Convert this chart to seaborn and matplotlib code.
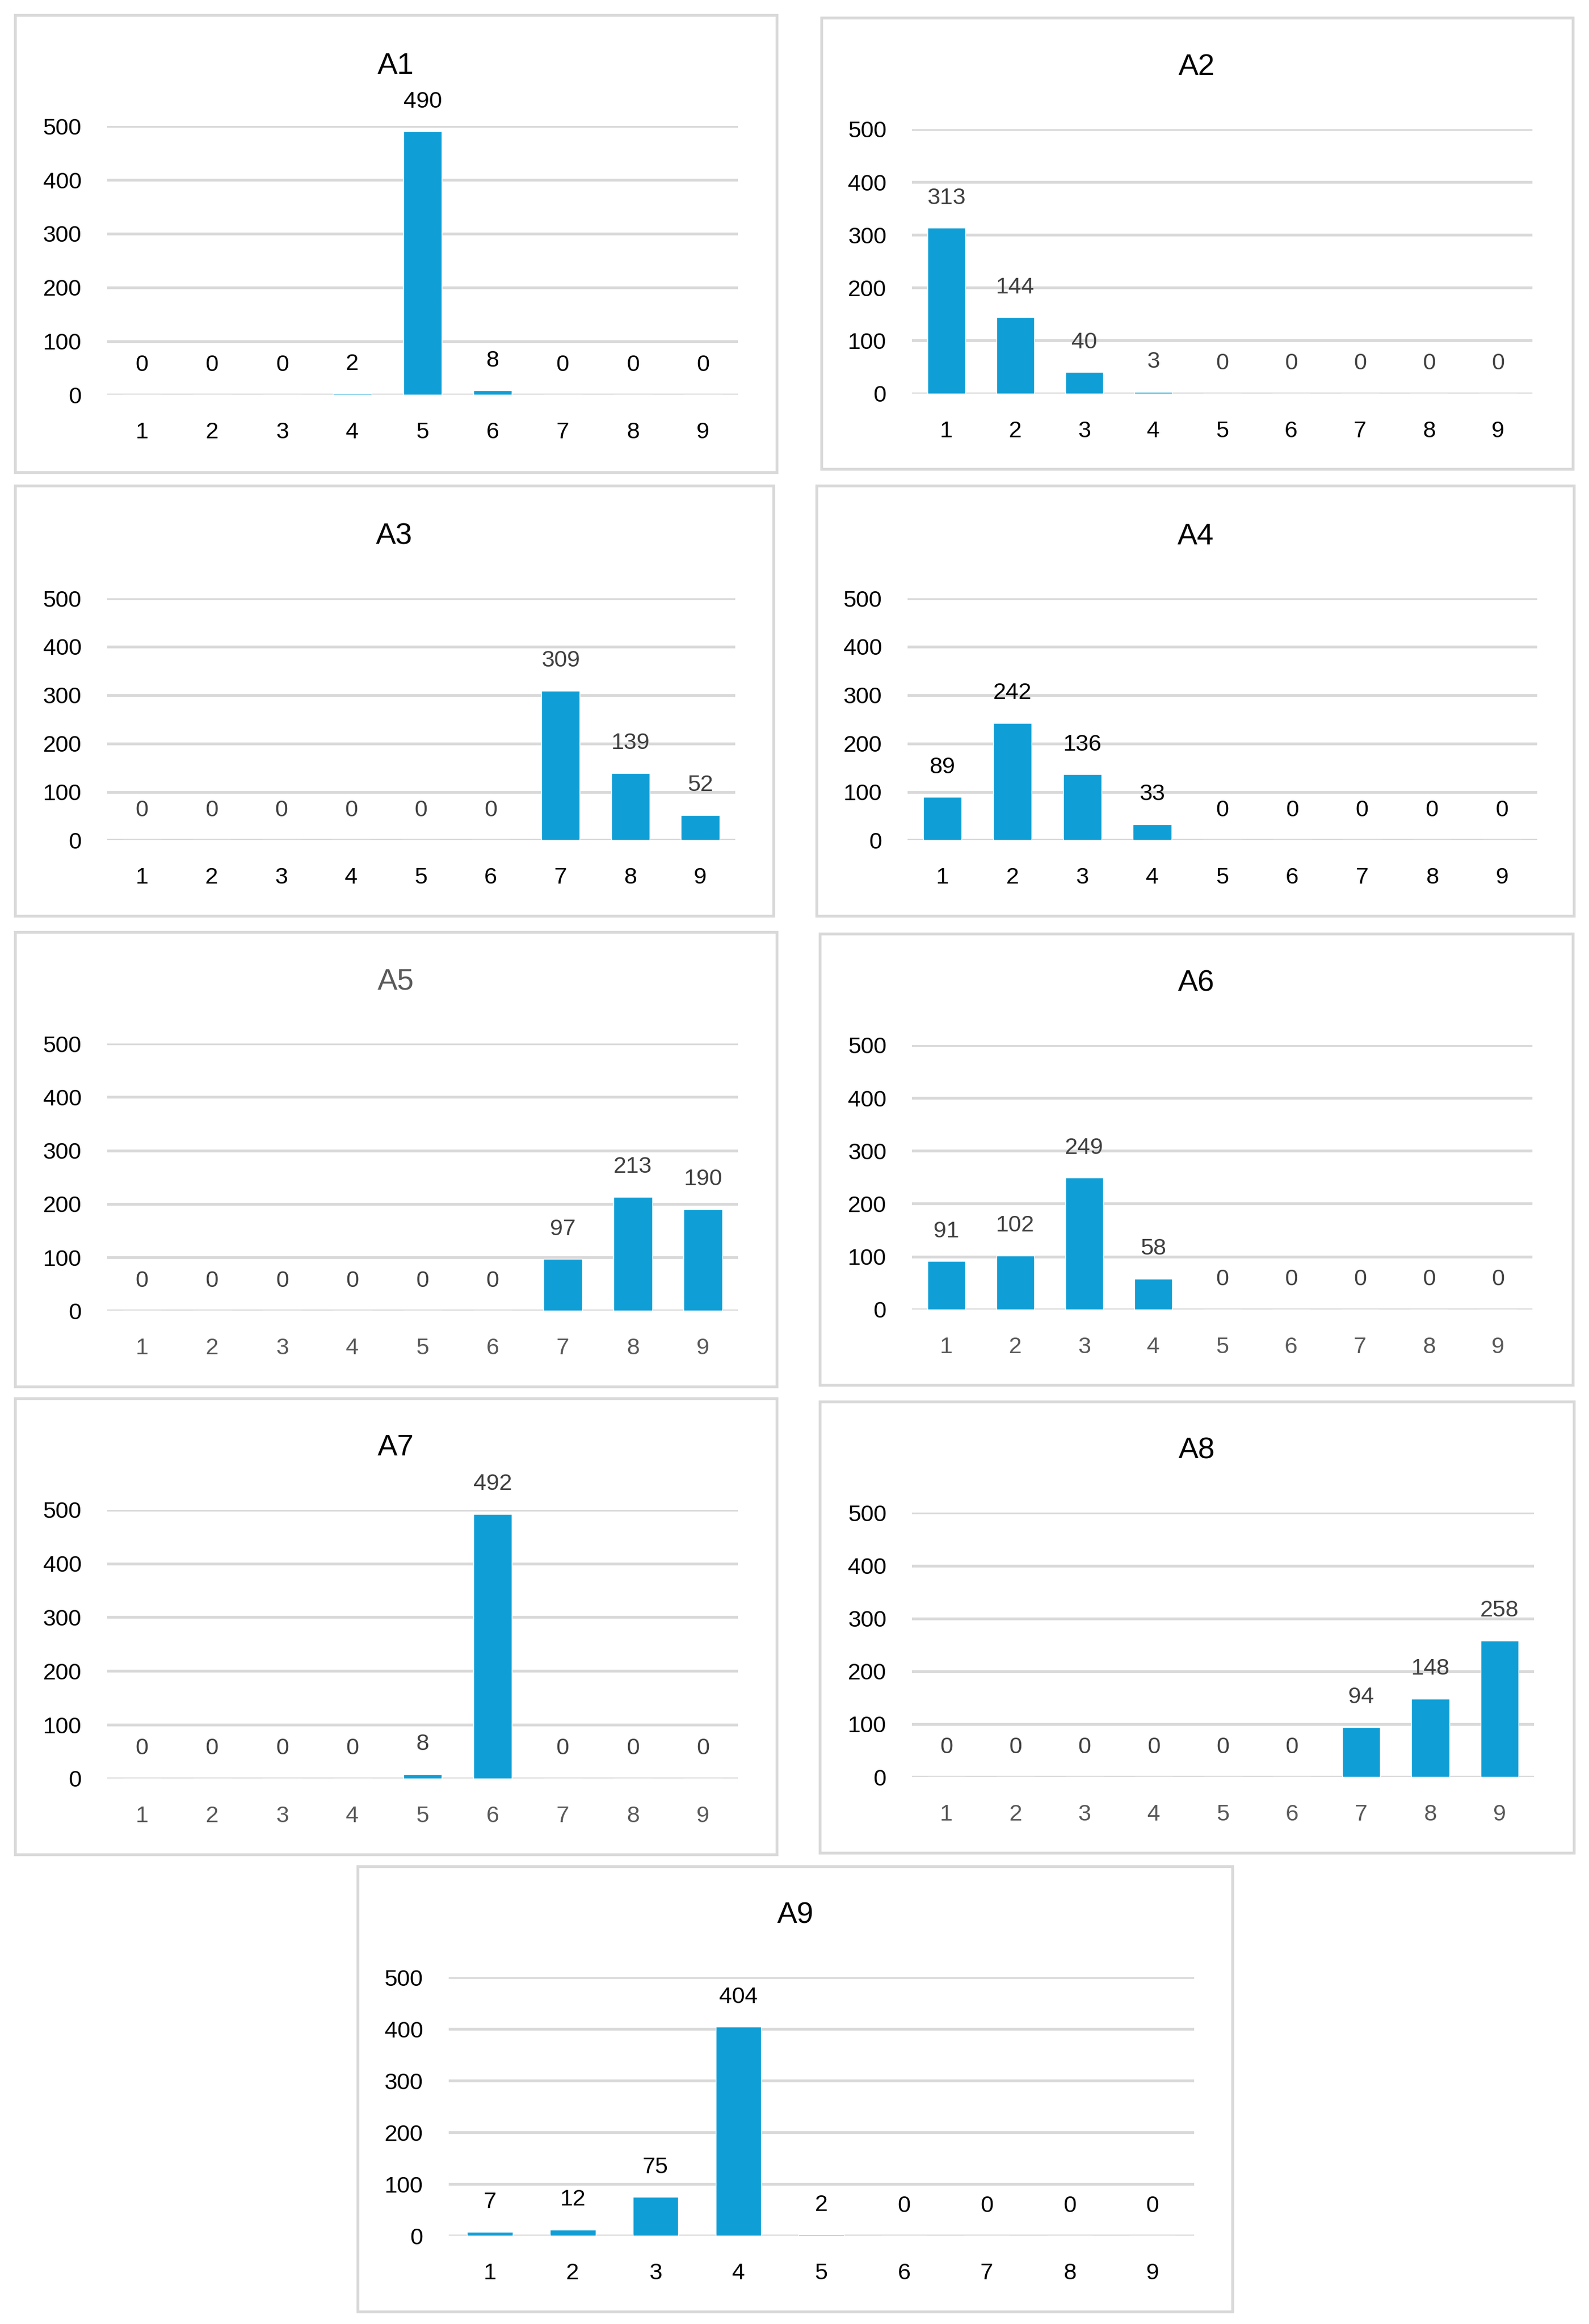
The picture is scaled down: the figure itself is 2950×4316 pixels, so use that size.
import matplotlib
matplotlib.use("Agg")
import matplotlib.pyplot as plt
import seaborn as sns
import pandas as pd
from matplotlib.patches import Rectangle

# ---------------- data ----------------
categories = ["1", "2", "3", "4", "5", "6", "7", "8", "9"]
titles = ["A1", "A2", "A3", "A4", "A5", "A6", "A7", "A8", "A9"]
a1 = [0, 0, 0, 2, 490, 8, 0, 0, 0]
a2 = [313, 144, 40, 3, 0, 0, 0, 0, 0]
a3 = [0, 0, 0, 0, 0, 0, 309, 139, 52]
a4 = [89, 242, 136, 33, 0, 0, 0, 0, 0]
a5 = [0, 0, 0, 0, 0, 0, 97, 213, 190]
a6 = [91, 102, 249, 58, 0, 0, 0, 0, 0]
a7 = [0, 0, 0, 0, 8, 492, 0, 0, 0]
a8 = [0, 0, 0, 0, 0, 0, 94, 148, 258]
a9 = [7, 12, 75, 404, 2, 0, 0, 0, 0]
series = [a1, a2, a3, a4, a5, a6, a7, a8, a9]
y_ticks = [0, 100, 200, 300, 400, 500]

# ---------------- style ----------------
sns.set_theme(style="white")
plt.rcParams["font.family"] = ["Liberation Sans", "DejaVu Sans"]

BAR = "#0F9ED5"
GRID = "#D9D9D9"
BLACK = "#000000"
DGRAY = "#404040"
MGRAY = "#595959"

# layout in a 1070-wide reference frame: frame box, plot box, title y
layout = [
    # (fx0, fy0, fx1, fy1), (px0, px1, ptop, pbot), title_y
    ((10, 10, 523, 318), (72, 497, 85, 266), 43),
    ((553, 12, 1059, 316), (614, 1032, 87, 265), 44),
    ((10, 327, 521, 617), (72, 495, 403, 566), 360),
    ((550, 327, 1060, 617), (611, 1035, 403, 566), 360),
    ((10, 628, 523, 934), (72, 497, 703, 883), 660),
    ((552, 629, 1059, 933), (614, 1032, 704, 882), 661),
    ((10, 942, 523, 1249), (72, 497, 1017, 1198), 974),
    ((552, 944, 1060, 1248), (614, 1033, 1019, 1197), 976),
    ((241, 1257, 830, 1557), (302, 804, 1332, 1506), 1289),
]
# (title colour, data-label colour, x tick colour)
colours = [
    (BLACK, BLACK, BLACK),
    (BLACK, DGRAY, BLACK),
    (BLACK, DGRAY, BLACK),
    (BLACK, BLACK, BLACK),
    (MGRAY, DGRAY, MGRAY),
    (BLACK, DGRAY, MGRAY),
    (BLACK, DGRAY, MGRAY),
    (BLACK, DGRAY, MGRAY),
    (BLACK, BLACK, BLACK),
]

W, H = 2950, 4316
S = 2950 / 1070.0

fig = plt.figure(figsize=(W / 100, H / 100), dpi=100)
fig.patch.set_facecolor("white")


def fx(v):
    return v * S / W


def fy(v):
    return 1 - v * S / H


for title, vals, (frame, plot, ty), (tc, lc, xc) in zip(titles, series, layout, colours):
    fx0, fy0, fx1, fy1 = frame
    fig.add_artist(Rectangle((fx(fx0), fy(fy1)), fx(fx1) - fx(fx0), fy(fy0) - fy(fy1),
                             transform=fig.transFigure, fill=False,
                             edgecolor=GRID, linewidth=3.8, zorder=0))
    px0, px1, ptop, pbot = plot
    ax = fig.add_axes([fx(px0), fy(pbot), fx(px1) - fx(px0), fy(ptop) - fy(pbot)])
    df = pd.DataFrame({"cat": categories, "val": vals})
    sns.barplot(data=df, x="cat", y="val", color=BAR, saturation=1, width=0.55,
                errorbar=None, ax=ax, zorder=3)
    ax.set_xlim(-0.5, len(categories) - 0.5)
    ax.set_ylim(0, 500)
    ax.set_yticks(y_ticks)
    ax.set_yticklabels([str(t) for t in y_ticks])
    ax.set_axisbelow(True)
    ax.yaxis.grid(True, color=GRID, linewidth=3.8)
    ax.xaxis.grid(False)
    for sp in ax.spines.values():
        sp.set_visible(False)
    ax.set_facecolor("none")
    ax.set_xlabel("")
    ax.set_ylabel("")
    ax.tick_params(axis="y", length=0, pad=34, labelsize=31, labelcolor=BLACK)
    ax.tick_params(axis="x", length=0, pad=36, labelsize=31, labelcolor=xc)
    for i, v in enumerate(vals):
        ax.annotate(str(v), xy=(i, v), xytext=(0, 40), textcoords="offset points",
                    ha="center", va="center", fontsize=31, color=lc,
                    annotation_clip=False)
    fig.text(fx((fx0 + fx1) / 2), fy(ty + 1.5), title, ha="center", va="center",
             fontsize=40, color=tc)

fig.savefig("out.png", dpi=100, facecolor="white")
